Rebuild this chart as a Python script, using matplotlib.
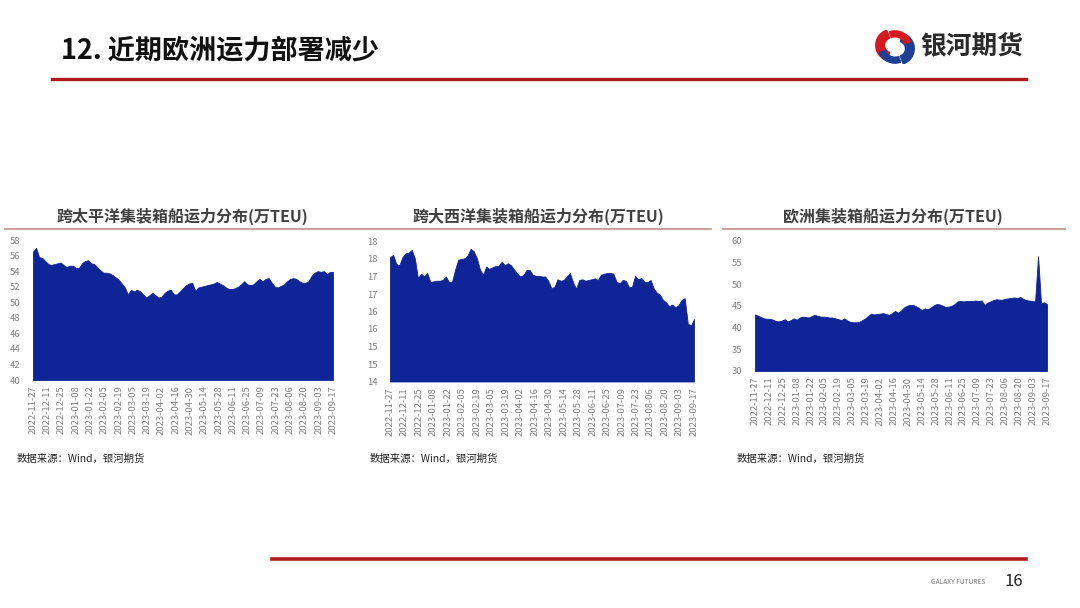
import numpy as np
import pandas as pd
import matplotlib
matplotlib.use("Agg")
import matplotlib.pyplot as plt
from matplotlib.patches import Wedge

plt.rcParams['font.family'] = ['Noto Sans CJK SC', 'DejaVu Sans']

# ---- data (one value every 3 days) ----
dates = pd.date_range('2022-11-27', '2023-09-17', freq='3D')

transpacific = [56.5, 57.0, 55.8, 55.7, 55.3, 54.9, 54.8, 54.9, 55.0, 55.1,
                54.8, 54.5, 54.7, 54.7, 54.4, 54.4, 55.0, 55.3, 55.4, 55.0,
                54.9, 54.5, 54.1, 53.8, 53.8, 53.7, 53.5, 53.2, 52.9, 52.4,
                51.9, 51.0, 51.6, 51.4, 51.6, 51.4, 51.0, 50.6, 50.9, 51.2,
                50.9, 50.6, 50.7, 51.2, 51.5, 51.6, 51.0, 51.0, 51.4, 51.8,
                52.2, 52.4, 52.5, 51.5, 51.9, 52.0, 52.1, 52.2, 52.3, 52.4,
                52.6, 52.4, 52.2, 51.9, 51.7, 51.7, 51.8, 52.0, 52.3, 52.7,
                52.3, 52.2, 52.3, 52.7, 53.0, 52.7, 53.0, 53.1, 52.5, 52.0,
                51.9, 52.1, 52.3, 52.7, 53.0, 53.1, 53.0, 52.7, 52.5, 52.5,
                52.7, 53.4, 53.8, 54.0, 53.9, 54.0, 53.6, 53.9, 53.9]

transatlantic = [17.55, 17.62, 17.36, 17.32, 17.55, 17.66, 17.68, 17.76, 17.52, 16.95,
                 17.08, 17.00, 17.10, 16.84, 16.86, 16.88, 16.88, 16.90, 17.00, 16.84,
                 16.85, 17.20, 17.48, 17.50, 17.52, 17.60, 17.79, 17.72, 17.52, 17.20,
                 17.05, 17.28, 17.22, 17.26, 17.30, 17.30, 17.42, 17.32, 17.38, 17.32,
                 17.20, 17.08, 17.00, 17.04, 17.18, 17.19, 17.05, 17.02, 17.02, 17.00,
                 17.00, 16.88, 16.67, 16.70, 16.92, 16.88, 16.90, 17.00, 17.10, 16.83,
                 16.65, 16.90, 16.92, 16.88, 16.90, 16.92, 16.95, 16.90, 17.05, 17.08,
                 17.10, 17.10, 17.08, 16.85, 16.80, 16.90, 16.88, 16.70, 16.70, 17.02,
                 16.92, 16.96, 16.85, 16.84, 16.90, 16.66, 16.54, 16.48, 16.33, 16.26,
                 16.15, 16.20, 16.12, 16.18, 16.33, 16.38, 15.65, 15.60, 15.78]

europe = [43.0, 42.7, 42.4, 42.1, 42.0, 42.0, 41.8, 41.5, 41.4, 41.6,
          41.9, 41.4, 41.7, 42.1, 41.8, 42.3, 42.5, 42.4, 42.3, 42.6,
          42.9, 42.7, 42.5, 42.5, 42.4, 42.3, 42.3, 42.1, 41.9, 41.7,
          42.1, 41.6, 41.3, 41.2, 41.2, 41.3, 41.7, 42.1, 42.7, 43.2,
          43.0, 43.1, 43.2, 43.3, 43.1, 42.9, 43.3, 43.8, 43.4, 43.9,
          44.6, 45.0, 45.2, 45.2, 44.9, 44.5, 44.0, 44.4, 44.2, 44.6,
          45.1, 45.4, 45.3, 45.0, 44.7, 44.8, 45.0, 45.4, 46.0, 46.1,
          46.0, 46.1, 46.1, 46.1, 46.2, 46.1, 46.2, 45.2, 45.7, 46.0,
          46.3, 46.5, 46.4, 46.4, 46.6, 46.7, 46.8, 46.9, 46.8, 47.0,
          46.6, 46.3, 46.2, 46.1, 46.0, 56.4, 45.6, 45.8, 45.4]

tick_dates = ['2022-11-27', '2022-12-11', '2022-12-25', '2023-01-08', '2023-01-22',
              '2023-02-05', '2023-02-19', '2023-03-05', '2023-03-19', '2023-04-02',
              '2023-04-16', '2023-04-30', '2023-05-14', '2023-05-28', '2023-06-11',
              '2023-06-25', '2023-07-09', '2023-07-23', '2023-08-06', '2023-08-20',
              '2023-09-03', '2023-09-17']

titles = ['跨太平洋集装箱船运力分布(万TEU)',
          '跨大西洋集装箱船运力分布(万TEU)',
          '欧洲集装箱船运力分布(万TEU)']

yticks_tp = [40, 42, 44, 46, 48, 50, 52, 54, 56, 58]
ylabels_tp = ['40', '42', '44', '46', '48', '50', '52', '54', '56', '58']
yticks_ta = [14, 14.5, 15, 15.5, 16, 16.5, 17, 17.5, 18]
ylabels_ta = ['14', '15', '15', '16', '16', '17', '17', '18', '18']
yticks_eu = [30, 35, 40, 45, 50, 55, 60]
ylabels_eu = ['30', '35', '40', '45', '50', '55', '60']

source = '数据来源：Wind，银河期货'

# ---- figure ----
W, H = 1080, 608
fig = plt.figure(figsize=(W / 100, H / 100), dpi=100)
fig.patch.set_facecolor('white')


def fx(px):
    return px / W


def fy(py):
    return 1 - py / H


fill_col = '#0f2496'
red = '#b01a1f'
tick_col = '#808080'

# header
fig.text(fx(61), fy(50), '12. 近期欧洲运力部署减少', fontsize=19.5, fontweight='bold',
         color='#111111', ha='left', va='center')
fig.add_artist(plt.Line2D([fx(52), fx(1026)], [fy(79), fy(79)], color=red, lw=2.4))
fig.text(fx(920), fy(46), '银河期货', fontsize=18.5, fontweight='bold',
         color='#2b2b2b', ha='left', va='center')

# logo: tilted red / blue swoosh
lax = fig.add_axes([fx(874), fy(64), fx(42), 34 / H])
lax.set_xlim(-1.2, 1.2)
lax.set_ylim(-1, 1)
lax.axis('off')
lax.add_patch(Wedge((-0.15, 0.1), 0.95, 110, 250, width=0.5, color='#d6181f'))
lax.add_patch(Wedge((0.15, -0.1), 0.95, 290, 70, width=0.5, color='#1d3f94'))
lax.add_patch(Wedge((0.0, 0.0), 0.95, 20, 110, width=0.35, color='#d6181f'))
lax.add_patch(Wedge((0.0, 0.0), 0.95, 200, 290, width=0.35, color='#1d3f94'))

# footer
fig.add_artist(plt.Line2D([fx(272), fx(1026)], [fy(559), fy(559)], color=red, lw=2.6))
fig.text(fx(985), fy(582), 'GALAXY FUTURES', fontsize=4.8, color='#777777',
         ha='right', va='center')
fig.text(fx(1005), fy(581), '16', fontsize=12, color='#222222', ha='left', va='center')

# panels: values, ticks, labels, box px, title x, underline, source x
panels = [
    (transpacific, yticks_tp, ylabels_tp, 33, 333, 240, 380, 182, (5, 357), 17),
    (transatlantic, yticks_ta, ylabels_ta, 390, 694, 241.5, 381.5, 538, (358, 711), 370),
    (europe, yticks_eu, ylabels_eu, 755, 1047, 240.5, 371, 893, (723, 1065), 737),
]

for k, (vals, yt, yl, l, r, t, b, tx, (u0, u1), sx) in enumerate(panels):
    ax = fig.add_axes([fx(l), fy(b), fx(r - l), (b - t) / H])
    ax.fill_between(dates, vals, yt[0], color=fill_col, lw=0.6, edgecolor=fill_col)
    ax.set_xlim(dates[0], dates[-1])
    ax.set_ylim(yt[0], yt[-1])
    ax.set_yticks(yt)
    ax.set_yticklabels(yl)
    ax.set_xticks(pd.to_datetime(tick_dates))
    ax.set_xticklabels(tick_dates, rotation=90)
    ax.tick_params(axis='both', length=0, labelsize=6.8, colors=tick_col)
    ax.tick_params(axis='y', pad=9)
    ax.tick_params(axis='x', pad=4)
    for s in ax.spines.values():
        s.set_visible(False)
    ax.set_facecolor('none')

    fig.text(fx(tx), fy(216), titles[k], fontsize=11.5, fontweight='bold',
             color='#404040', ha='center', va='center')
    fig.add_artist(plt.Line2D([fx(u0), fx(u1)], [fy(229), fy(229)],
                              color='#c49a96', lw=1.3))
    fig.text(fx(sx), fy(459), source, fontsize=7.5, color='#222222',
             ha='left', va='center')

fig.savefig('out.png', dpi=100, facecolor='white')
